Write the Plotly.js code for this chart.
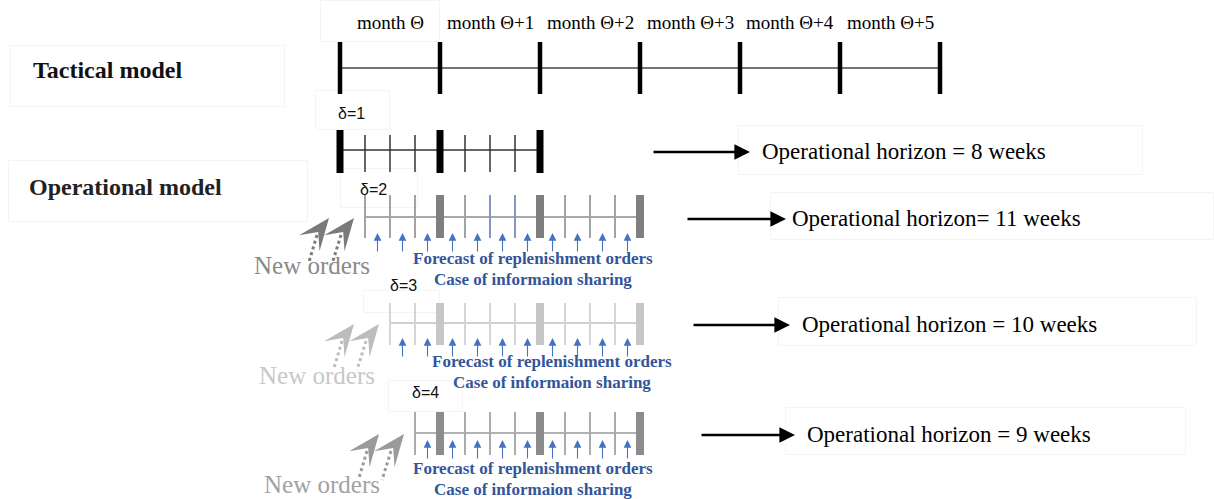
<!DOCTYPE html>
<html><head><meta charset="utf-8">
<script src="https://cdn.plot.ly/plotly-3.0.1.min.js"></script>
<style>html,body{margin:0;padding:0;background:#fff;}#chart{width:1214px;height:499px;}</style>
</head><body><div id="chart"></div>
<script>
// ---------------- data ----------------
const monthLabels = ['month Θ','month Θ+1','month Θ+2','month Θ+3','month Θ+4','month Θ+5'];
const weeksPerMonth = 4;
const deltas = [1, 2, 3, 4];
const startWeeks = [0, 1, 2, 3];
const endWeeks = [8, 12, 12, 12];
const horizonWeeks = [8, 11, 10, 9];
const horizonEq = [' = ', '= ', ' = ', ' = '];
const forecastLines = ['Forecast of replenishment orders', 'Case of informaion sharing'];
const newOrdersLabel = 'New orders';
const rowTitles = ['Tactical model', 'Operational model'];

// ---------------- layout / style ----------------
const W = 1214, H = 499;
const WEEK_PX = 25, ORIGIN_PX = 340;
const pxX = p => (p - ORIGIN_PX) / WEEK_PX;   // pixel -> week axis (for decorations only)
const SERIF = 'Liberation Serif, Times New Roman, serif';
const SANS = 'Liberation Sans, Arial, sans-serif';

const tacticalY = 68;
const rowY = [150, 217, 323, 433];
const tickTop = [130, 195, 303, 412];
const tickBot = [173, 238, 345, 455];
const thinColor = ['#333333', '#a3a3a3', '#d4d4d4', '#ababab'];
const thickColor = ['#000000', '#7f7f7f', '#c6c6c6', '#8c8c8c'];
const lineColor = ['#333333', '#a9a9a9', '#d0d0d0', '#b3b3b3'];
const newColor = [null, '#8a8a8a', '#c8c8c8', '#a2a2a2'];
const chevColor = [null, '#7a7a7a', '#bdbdbd', '#9a9a9a'];
const arrowTipY = [null, 233, 338, 440];
const fcCenterPx = [null, 533, 552, 533];
const fcY = [null, [258, 279], [361, 382], [468, 489]];
const newOrdersPx = [null, [312, 265], [317, 375], [322, 484]];
const deltaLabelPx = [[351, 113], [373, 189], [403, 285], [425, 392]];
const horizArrowPx = [[652, 750], [686, 786], [692, 790], [700, 795]];
const horizTextPx = [760, 790, 800, 805];
const faintBoxes = [[320,0,440,42],[10,45,285,107],[8,160,308,222],[315,90,390,130],[340,168,418,208],[363,290,440,313],[388,380,463,412],
  [738,125,1143,175],[770,192,1214,240],[778,297,1197,346],[785,407,1186,455]];
const blue = '#4472C4', blueText = '#33559a';

const traces = [];
const shapes = [];
const ann = [];

// faint text boxes
faintBoxes.forEach(b => shapes.push({type:'rect', xref:'x', yref:'y', x0:pxX(b[0]+0.5), x1:pxX(b[2]-0.5), y0:b[1]+0.5, y1:b[3]-0.5,
  line:{color:'#f4f4f4', width:1}, fillcolor:'rgba(0,0,0,0)', layer:'below'}));

// tactical timeline
const nMonths = monthLabels.length;
traces.push({type:'scatter', mode:'lines', x:[0, nMonths*weeksPerMonth], y:[tacticalY, tacticalY],
  line:{color:'#444', width:1.5}, hoverinfo:'skip', showlegend:false});
for (let m = 0; m <= nMonths; m++) {
  shapes.push({type:'line', xref:'x', yref:'y', x0:m*weeksPerMonth, x1:m*weeksPerMonth, y0:42, y1:94, line:{color:'#000', width:4.5}});
}
monthLabels.forEach((t, i) => ann.push({x:(i+0.5)*weeksPerMonth, y:22, xref:'x', yref:'y', text:t, showarrow:false,
  font:{family:SERIF, size:19, color:'#000'}, xanchor:'center', yanchor:'middle'}));

// row titles
ann.push({x:pxX(31), y:70, xref:'x', yref:'y', text:'<b>'+rowTitles[0]+'</b>', showarrow:false, xanchor:'left', yanchor:'middle',
  font:{family:SERIF, size:24, color:'#111'}});
ann.push({x:pxX(27), y:187, xref:'x', yref:'y', text:'<b>'+rowTitles[1]+'</b>', showarrow:false, xanchor:'left', yanchor:'middle',
  font:{family:SERIF, size:24, color:'#222'}});

// chevron path (pixel offsets relative to anchor; y up positive)
function chevron(tx, ty, L, Wd, deg) {
  const a = deg*Math.PI/180;
  const d = [Math.cos(a), -Math.sin(a)], n = [Math.sin(a), Math.cos(a)];
  const pts = [
    [tx, ty],
    [tx - L*d[0] + Wd/2*n[0], ty - L*d[1] + Wd/2*n[1]],
    [tx - 0.55*L*d[0], ty - 0.55*L*d[1]],
    [tx - L*d[0] - Wd/2*n[0], ty - L*d[1] - Wd/2*n[1]]
  ];
  return 'M' + pts.map(p => p[0].toFixed(1)+','+(-p[1]).toFixed(1)).join('L') + 'Z';
}

// operational rows
deltas.forEach((dl, i) => {
  const s = startWeeks[i], e = endWeeks[i], y = rowY[i];
  traces.push({type:'scatter', mode:'lines', x:[s, e], y:[y, y], line:{color:lineColor[i], width:i===0?1.5:2},
    hoverinfo:'skip', showlegend:false});
  for (let w = s; w <= e; w++) {
    const thick = (w % weeksPerMonth === 0);
    let col = thick ? thickColor[i] : thinColor[i];
    if (i === 1 && (w === 6 || w === 7)) col = '#8696c4';
    shapes.push({type:'line', xref:'x', yref:'y', x0:w, x1:w,
      y0: thick ? tickTop[i] : tickTop[i] + (i===0?5:0), y1: tickBot[i] - (thick?0:(i===0?1:0)),
      line:{color:col, width: thick ? (i===0?7:8) : (i===0?1.5:2)}});
  }
  ann.push({x:pxX(deltaLabelPx[i][0]), y:deltaLabelPx[i][1], xref:'x', yref:'y', text:'δ='+dl, showarrow:false,
    font:{family:SANS, size:16, color:'#111'}, xanchor:'center', yanchor:'middle'});

  // horizon arrow + text
  const ha = horizArrowPx[i];
  ann.push({x:pxX(ha[1]), y:y+2, xref:'x', yref:'y', ax:-(ha[1]-ha[0]), ay:0, text:'', showarrow:true,
    arrowhead:2, arrowsize:1.3, arrowwidth:2.4, arrowcolor:'#000'});
  ann.push({x:pxX(horizTextPx[i]), y:y+1, xref:'x', yref:'y', text:'Operational horizon' + horizonEq[i] + horizonWeeks[i] + ' weeks',
    showarrow:false, xanchor:'left', yanchor:'middle', font:{family:SERIF, size:23, color:'#000'}});

  if (i === 0) return;
  // forecast arrows for each week of the horizon
  for (let k = 0; k < horizonWeeks[i]; k++) {
    ann.push({x:s + k + 0.5, y:arrowTipY[i], xref:'x', yref:'y', ax:0, ay:20, text:'', showarrow:true,
      arrowhead:2, arrowsize:1.4, arrowwidth:1.1, arrowcolor:blue});
  }
  forecastLines.forEach((t, j) => ann.push({x:pxX(fcCenterPx[i]), y:fcY[i][j], xref:'x', yref:'y', text:'<b>'+t+'</b>',
    showarrow:false, xanchor:'center', yanchor:'middle', font:{family:SERIF, size:17, color:blueText}}));
  // new orders
  ann.push({x:pxX(newOrdersPx[i][0]), y:newOrdersPx[i][1], xref:'x', yref:'y', text:newOrdersLabel, showarrow:false,
    xanchor:'center', yanchor:'middle', font:{family:SERIF, size:25, color:newColor[i]}});
  // chevrons + dotted tails
  [[-36, 1, -48, 18, -56, 45], [-11, 1, -24, 18, -33, 47]].forEach(c => {
    shapes.push({type:'line', xref:'x', yref:'y', xsizemode:'pixel', ysizemode:'pixel', xanchor:s, yanchor:y,
      x0:c[2], y0:-c[3], x1:c[4], y1:-c[5], line:{color:chevColor[i], width:3, dash:'dot'}});
    shapes.push({type:'path', xref:'x', yref:'y', xsizemode:'pixel', ysizemode:'pixel', xanchor:s, yanchor:y,
      path:chevron(c[0], c[1], 32, 26, 52), fillcolor:chevColor[i], line:{width:0}});
  });
});

const layout = {
  width:W, height:H, margin:{l:0, r:0, t:0, b:0},
  paper_bgcolor:'#fff', plot_bgcolor:'#fff', showlegend:false,
  xaxis:{range:[-ORIGIN_PX/WEEK_PX, (W-ORIGIN_PX)/WEEK_PX], visible:false, fixedrange:true},
  yaxis:{range:[H, 0], visible:false, fixedrange:true},
  shapes:shapes, annotations:ann
};
Plotly.newPlot('chart', traces, layout, {displayModeBar:false, staticPlot:true});
</script></body></html>
